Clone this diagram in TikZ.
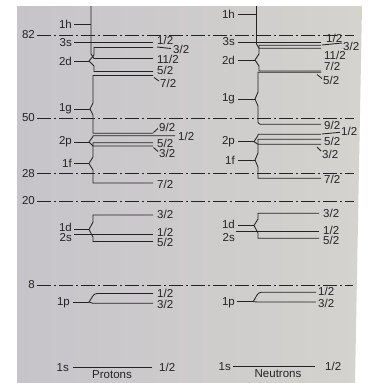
\documentclass[tikz,border=0pt]{standalone}
\usepackage{fontspec}
\setmainfont{Liberation Sans}
\definecolor{ink}{RGB}{35,35,35}
\definecolor{paperA}{RGB}{198,196,201}
\definecolor{paperB}{RGB}{222,221,216}
\definecolor{paperC}{RGB}{212,211,206}
\tikzset{
  lev/.style={line width=0.85pt, draw=ink},
  magicline/.style={lev, dash pattern=on 14pt off 3pt on 2pt off 3pt},
  lab/.style={font=\fontsize{11.5}{13}\selectfont, text=ink, inner sep=0pt},
  orb/.style={lab, anchor=east},
  frac/.style={lab, anchor=west},
}
\begin{document}
\begin{tikzpicture}[x=1pt,y=-1pt]
\useasboundingbox (0,0) rectangle (369,383);
\fill[white] (0,0) rectangle (369,383);
\shade[left color=paperA, middle color=paperB, right color=paperC] (17,6) -- (362,6) -- (355,383) -- (17,383) -- cycle;

% magic numbers
\node[orb] (m82) at (35,35) {82};
\draw[magicline] (37,35) -- (354,35);
\node[orb] (m50) at (35,118) {50};
\draw[magicline] (37,118) -- (354,118);
\node[orb] (m28) at (35,173.5) {28};
\draw[magicline] (37,173.5) -- (354,173.5);
\node[orb] (m20) at (35,201) {20};
\draw[magicline] (37,201) -- (354,201);
\node[orb] (m8) at (35,285) {8};
\draw[magicline] (37,285) -- (353,285);

% ================= Protons =================
\node[orb] (p1h) at (72,24) {1h};
\draw[lev] (74,24) -- (91,24);
\draw[lev] (91,6) -- (91,54) -- (94,58.5) -- (153,58.5);
\node[frac] (p1h11) at (157,59) {11/2};

\node[orb] (p3s) at (72,43) {3s};
\draw[lev] (74,42.5) -- (153,42.5);
\node[frac] (p3s1) at (157,40.5) {1/2};

\node[orb] (p2d) at (72,61) {2d};
\draw[lev] (74,61) -- (89,61);
\draw[lev] (89,61) -- (94,55) -- (94,47.5) -- (153,47.5);
\draw[lev] (89,61) -- (94,66) -- (94,71.5) -- (153,71.5);
\draw[lev] (157,47) -- (171,48.5);
\node[frac] (p2d3) at (173,49.5) {3/2};
\node[frac] (p2d5) at (157,70.5) {5/2};

\node[orb] (p1g) at (72,109) {1g};
\draw[lev] (74,109) -- (90,109);
\draw[lev] (90,109) -- (93,103) -- (93,75.5) -- (153,75.5);
\draw[lev] (90,109) -- (93,115) -- (93,133.3) -- (153,133.3);
\draw[lev] (154,77.5) -- (159,81);
\node[frac] (p1g7) at (160,83) {7/2};
\draw[lev] (153.5,132.5) -- (158,128.5);
\node[frac] (p1g9) at (159,127) {9/2};

\node[orb] (p2p) at (72,142) {2p};
\draw[lev] (74,142) -- (89,142);
\draw[lev] (89,142) -- (93,136.5) -- (93,135.8) -- (175,135.8);
\draw[lev] (89,142) -- (93,146) -- (153,146);
\node[frac] (p2p1) at (178,136) {1/2};
\draw[lev] (153.5,147.5) -- (158,151.5);
\node[frac] (p2p3) at (159,153.5) {3/2};

\node[orb] (p1f) at (72,163.5) {1f};
\draw[lev] (74,163.5) -- (89,163.5);
\draw[lev] (89,163.5) -- (93,157) -- (93,142.8) -- (153,142.8);
\draw[lev] (89,163.5) -- (93,170) -- (93,183) -- (153,183);
\node[frac] (p1f5) at (157,143) {5/2};
\node[frac] (p1f7) at (157,184) {7/2};

\node[orb] (p1d) at (72,227.3) {1d};
\draw[lev] (74,229.5) -- (89,229.5);
\draw[lev] (89,229.5) -- (93,222) -- (93,215) -- (153,215);
\draw[lev] (89,229.5) -- (93,237) -- (93,241.5) -- (153,241.5);
\node[frac] (p1d3) at (157,214) {3/2};
\node[frac] (p1d5) at (157,242.5) {5/2};
\node[orb] (p2s) at (72,238) {2s};
\draw[lev] (74,234.5) -- (153,234.5);
\node[frac] (p2s1) at (157,232.5) {1/2};

\node[orb] (p1p) at (70,302.5) {1p};
\draw[lev] (73,302) -- (89,302);
\draw[lev] (89,302) .. controls (92,298) and (93,293.5) .. (97,293.5) -- (153,293.5);
\draw[lev] (89,302) -- (93,303.3) -- (153,303.3);
\node[frac] (p1p1) at (157,293) {1/2};
\node[frac] (p1p3) at (157,304) {3/2};

\node[orb] (p1s) at (69,368) {1s};
\draw[lev] (73,367.5) -- (152,367.5);
\node[frac] (p1s1) at (159,367.5) {1/2};

\node[lab] (prot) at (112,374.5) {Protons};

% ================= Neutrons =================
\node[orb] (n1h) at (235,14) {1h};
\draw[lev] (238,14) -- (256.5,14);
\draw[lev] (256.5,6) -- (256.5,44) -- (259,48.3) -- (321,48.3);
\node[frac] (n1h11) at (324,55) {11/2};

\node[orb] (n3s) at (235,42) {3s};
\draw[lev] (238,42) -- (321,42);
\node[frac] (n3s1) at (326,38.5) {1/2};

\node[orb] (n2d) at (235,60) {2d};
\draw[lev] (238,60) -- (255,60);
\draw[lev] (255,60) -- (259,54) -- (259,45.3) -- (321,45.3);
\draw[lev] (255,60) -- (259,66) -- (259,71) -- (321,71);
\draw[lev] (322,45) -- (342,43);
\node[frac] (n2d3) at (343,46.5) {3/2};
\draw[lev] (317,74.5) -- (322,78.5);
\node[frac] (n2d5) at (323,80.5) {5/2};

\node[orb] (n1g) at (235,99) {1g};
\draw[lev] (238,99) -- (255,99);
\draw[lev] (255,99) -- (258,92) -- (258,72.3) -- (321,72.3);
\draw[lev] (255,99) -- (258,106) -- (258,122.5) -- (260,124.3) -- (321,124.3);
\node[frac] (n1g7) at (324,66.5) {7/2};
\node[frac] (n1g9) at (324,125) {9/2};

\node[orb] (n2p) at (235,141.7) {2p};
\draw[lev] (238,141.7) -- (254,141.7);
\draw[lev] (254,141.7) -- (258,135.5) -- (258,134.3) -- (321,134.3);
\draw[lev] (254,141.7) -- (258,144.3) -- (321,144.3);
\draw[lev] (322,134) -- (340,132.3);
\node[frac] (n2p1) at (341,131.5) {1/2};
\draw[lev] (317,147) -- (321,151);
\node[frac] (n2p3) at (322,154) {3/2};

\node[orb] (n1f) at (235,160) {1f};
\draw[lev] (238,160) -- (255,160);
\draw[lev] (255,160) -- (258,153) -- (258,139.3) -- (321,139.3);
\draw[lev] (255,160) -- (258,167) -- (258,178.3) -- (321,178.3);
\node[frac] (n1f5) at (324,141.5) {5/2};
\node[frac] (n1f7) at (324,179.5) {7/2};

\node[orb] (n1d) at (235,224.5) {1d};
\draw[lev] (238,225.5) -- (254,225.5);
\draw[lev] (254,225.5) -- (258,219) -- (258,213.3) -- (319,213.3);
\draw[lev] (254,225.5) -- (258,233) -- (258,238.3) -- (319,238.3);
\node[frac] (n1d3) at (323,213.3) {3/2};
\node[frac] (n1d5) at (323,240.5) {5/2};

\node[orb] (n2s) at (235,237.7) {2s};
\draw[lev] (236,231) -- (319,231);
\node[frac] (n2s1) at (323,230.5) {1/2};

\node[orb] (n1p) at (235,302.5) {1p};
\draw[lev] (237,301.7) -- (253,301.7);
\draw[lev] (253,301.7) .. controls (256,298) and (257,292.3) .. (261,292.3) -- (316,292.3);
\draw[lev] (253,301.7) -- (258,302) -- (316,302);
\node[frac] (n1p1) at (318,291.7) {1/2};
\node[frac] (n1p3) at (318,303.3) {3/2};

\node[orb] (n1s) at (231,367) {1s};
\draw[lev] (233,366) -- (315,366);
\node[frac] (n1s1) at (325,366) {1/2};

\node[lab] (neut) at (278,373.5) {Neutrons};
\end{tikzpicture}
\end{document}
